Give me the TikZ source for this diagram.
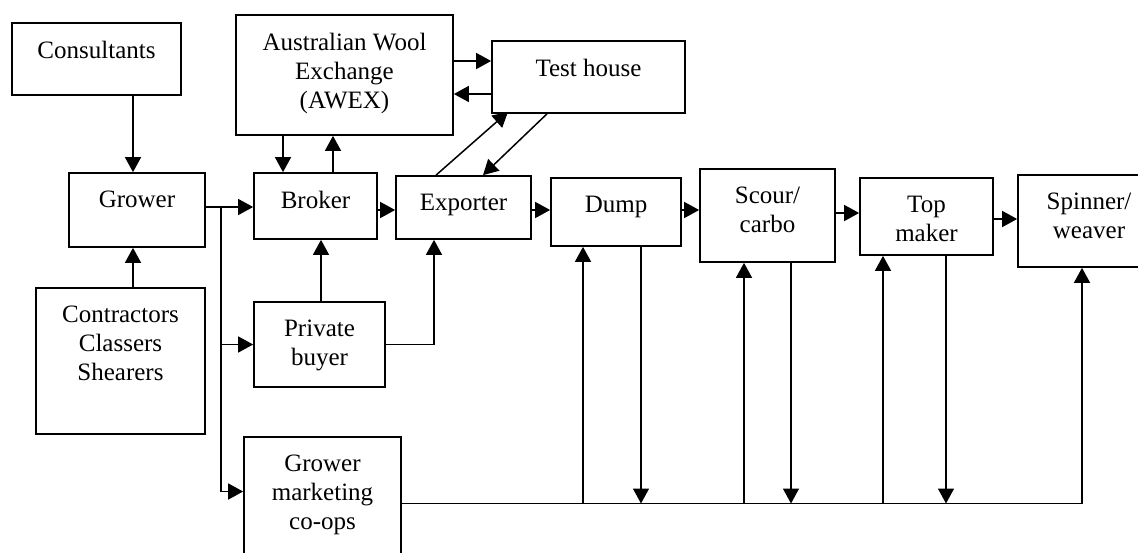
\documentclass[tikz,border=0pt]{standalone}
\usepackage{fontspec}
\setmainfont{Liberation Serif}
\usetikzlibrary{arrows.meta}

\tikzset{
  stage/.style={draw, line width=1.7pt, inner sep=0pt},
  stagetext/.style={anchor=north, yshift=-19pt, align=center, inner sep=0pt,
    font=\fontsize{25}{29}\selectfont},
  flow/.style={line width=1.5pt, -{Triangle[length=15pt,width=16pt]}},
}

\begin{document}
\begin{tikzpicture}[x=1pt, y=-1pt]
    \useasboundingbox (0,0) rectangle (1138,552);
    \clip (0,0) rectangle (1138,552);

    % Stages
    \node[stage, minimum width=169pt, minimum height=72pt, label={[stagetext]north:Consultants}] (consultants) at (96.5,59) {};
    \node[stage, minimum width=217pt, minimum height=120pt, label={[stagetext]north:Australian Wool\\Exchange\\(AWEX)}] (awex) at (344.5,75) {};
    \node[stage, minimum width=193pt, minimum height=72pt, label={[stagetext]north:Test house}] (testhouse) at (588.5,77) {};
    \node[stage, minimum width=136pt, minimum height=74pt, label={[stagetext]north:Grower}] (grower) at (137,210) {};
    \node[stage, minimum width=123pt, minimum height=66pt, label={[stagetext]north:Broker}] (broker) at (315.5,206) {};
    \node[stage, minimum width=135pt, minimum height=63pt, label={[stagetext]north:Exporter}] (exporter) at (463.5,207.5) {};
    \node[stage, minimum width=130pt, minimum height=68pt, label={[stagetext]north:Dump}] (dump) at (616,212) {};
    \node[stage, minimum width=135pt, minimum height=93pt, label={[stagetext]north:Scour/\\carbo}] (scour) at (767.5,215.5) {};
    \node[stage, minimum width=133pt, minimum height=77pt, label={[stagetext]north:Top\\maker}] (topmaker) at (926.5,216.5) {};
    \node[stage, minimum width=142pt, minimum height=92pt, label={[stagetext]north:Spinner/\\weaver}] (spinner) at (1089,221) {};
    \node[stage, minimum width=169pt, minimum height=146pt, label={[stagetext]north:Contractors\\Classers\\Shearers}] (contractors) at (120.5,361) {};
    \node[stage, minimum width=131pt, minimum height=85pt, label={[stagetext]north:Private\\buyer}] (privbuyer) at (319.5,344.5) {};
    \node[stage, minimum width=157pt, minimum height=133pt, label={[stagetext]north:Grower\\marketing\\co-ops}] (coops) at (322.5,503.5) {};

    % Into the grower
    \draw[flow] ([xshift=-4pt]grower.north |- consultants.south) -- ([xshift=-4pt]grower.north);
    \draw[flow] ([xshift=-4pt]grower.north |- contractors.north) -- ([xshift=-4pt]grower.south);

    % Grower sells
    \coordinate (split) at (221,207);
    \draw[flow] ([yshift=-1pt]grower.east |- broker.west) -- ([yshift=-1pt]broker.west);
    \draw[flow] (split) |- (privbuyer.west);
    \draw[flow] (split) |- ([yshift=12pt]coops.west);

    % Broker and AWEX
    \draw[flow] ([xshift=-32.5pt]broker.north |- awex.south) -- ([xshift=-32.5pt]broker.north);
    \draw[flow] ([xshift=17.5pt]broker.north) -- ([xshift=17.5pt]broker.north |- awex.south);

    % AWEX and test house
    \draw[flow] ([yshift=16pt]testhouse.west -| awex.east) -- ([yshift=16pt]testhouse.west);
    \draw[flow] ([yshift=-17pt]testhouse.west) -- ([yshift=-17pt]testhouse.west -| awex.east);

    % Exporter and test house
    \draw[flow] ([xshift=-27.5pt]exporter.north) -- ([xshift=-80.5pt,yshift=2pt]testhouse.south);
    \draw[flow] ([xshift=-41.5pt]testhouse.south) -- ([xshift=19.5pt]exporter.north);

    % Main chain
    \draw[flow] ([yshift=-4pt]broker.east) -- ([yshift=-4pt]broker.east -| exporter.west);
    \draw[flow] ([yshift=-2.5pt]exporter.east) -- ([yshift=-2.5pt]exporter.east -| dump.west);
    \draw[flow] ([yshift=2pt]dump.east) -- ([yshift=2pt]dump.east -| scour.west);
    \draw[flow] ([yshift=2.5pt]scour.east) -- ([yshift=2.5pt]scour.east -| topmaker.west);
    \draw[flow] ([yshift=-2.5pt]topmaker.east) -- ([yshift=-2.5pt]topmaker.east -| spinner.west);

    % Private buyer
    \draw[flow] ([xshift=1.5pt]privbuyer.north) -- ([xshift=1.5pt]privbuyer.north |- broker.south);
    \draw[flow] (privbuyer.east) -| ([xshift=-29.5pt]exporter.south);

    % Co-ops line
    \draw[flow] (coops.east) -| ([xshift=-7pt]spinner.south);
    \foreach \stg/\upx/\dnx in {dump/-33/25, scour/-23.5/23.5, topmaker/-43.5/19.5} {
        \draw[flow] ([xshift=\upx pt]\stg.south |- coops.east) -- ([xshift=\upx pt]\stg.south);
        \draw[flow] ([xshift=\dnx pt]\stg.south) -- ([xshift=\dnx pt]\stg.south |- coops.east);
    }
\end{tikzpicture}
\end{document}
